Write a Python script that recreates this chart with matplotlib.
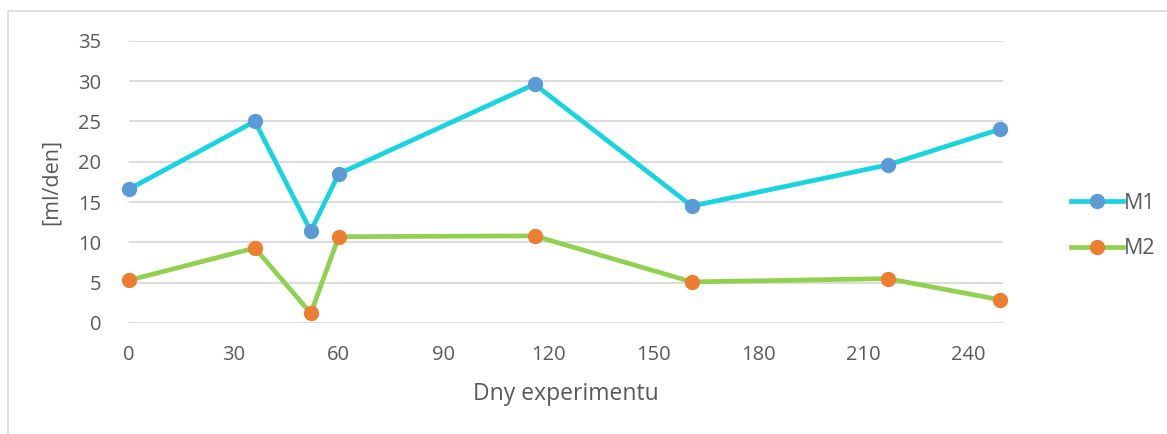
import matplotlib.pyplot as plt
from matplotlib.patches import Rectangle

days = [0, 36, 52, 60, 116, 161, 217, 249]
m1 = [16.6, 25.0, 11.4, 18.5, 29.6, 14.5, 19.6, 24.0]
m2 = [5.3, 9.3, 1.2, 10.7, 10.8, 5.1, 5.5, 2.9]
x_ticks = [0, 30, 60, 90, 120, 150, 180, 210, 240]
y_ticks = [0, 5, 10, 15, 20, 25, 30, 35]

TEXT = '#595959'
plt.rcParams['font.family'] = ['Open Sans', 'DejaVu Sans']

fig = plt.figure(figsize=(11.67, 4.34), dpi=100)
fig.patches.append(Rectangle((8 / 1167, -0.1), 1.2, (434 - 11) / 434 + 0.1,
                             transform=fig.transFigure, fill=False,
                             edgecolor='#D9D9D9', linewidth=1.2))

ax = fig.add_axes([129 / 1167, 111 / 434, (1003 - 129) / 1167, (323 - 40.7) / 434])

ax.plot(days, m1, color='#17D4DE', linewidth=3.4, marker='o', markersize=10,
        markerfacecolor='#5B9BD5', markeredgecolor='#5B9BD5', label='M1', zorder=3)
ax.plot(days, m2, color='#92D050', linewidth=3.4, marker='o', markersize=10,
        markerfacecolor='#ED7D31', markeredgecolor='#ED7D31', label='M2', zorder=3)

ax.set_xlim(0, 250)
ax.set_ylim(0, 35)
ax.set_xticks(x_ticks)
ax.set_yticks(y_ticks)
ax.yaxis.grid(True, color='#D9D9D9', linewidth=1.3)
ax.set_axisbelow(True)
for s in ax.spines.values():
    s.set_visible(False)
ax.tick_params(axis='both', length=0, labelsize=14.5, colors=TEXT)
ax.tick_params(axis='y', pad=20)
ax.tick_params(axis='x', pad=16)
for ln in ax.lines:
    ln.set_clip_on(False)

ax.set_xlabel('Dny experimentu', fontsize=16.5, color=TEXT, labelpad=12)
ax.set_ylabel('[ml/den]', fontsize=15.5, color=TEXT, labelpad=12)

leg = fig.legend(loc='center left', bbox_to_anchor=(1052 / 1167, 1 - 226 / 434),
                 frameon=False, fontsize=15.5, handlelength=2.4,
                 handletextpad=0.05, labelspacing=1.15, labelcolor=TEXT)

fig.savefig('out.png', dpi=100)
